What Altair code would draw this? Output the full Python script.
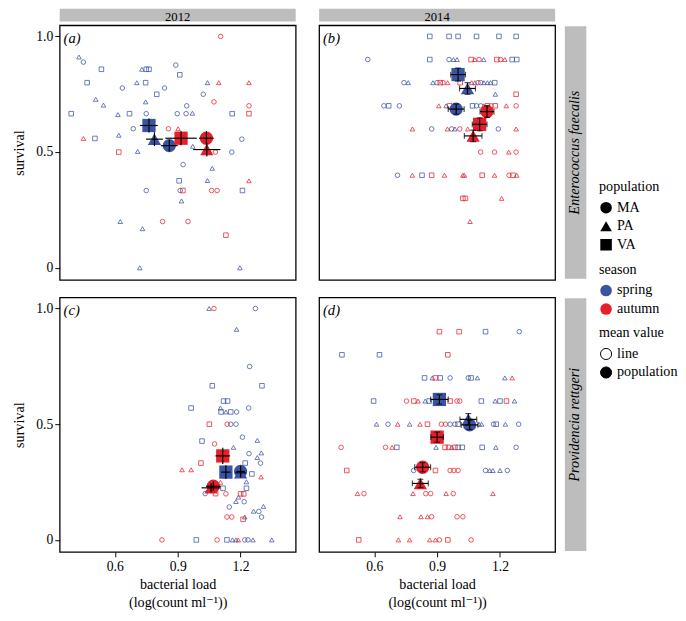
import altair as alt
import pandas as pd

SERIF = "'Liberation Serif', 'Times New Roman', Times, 'DejaVu Serif', serif"
BLUE = "#3a53a2"
RED = "#e5202b"
GREY = "#bdbdbd"
W, H = 242, 261
XDOM = [0.337, 1.463]
YDOM = [-0.052, 1.048]

POP_ORDER = ["MA", "PA", "VA"]
POP_SHAPES = ["circle", "triangle-up", "square"]
SEASON_ORDER = ["spring", "autumn"]
SEASON_COLORS = [BLUE, RED]
MEAN_ORDER = ["line", "population"]
COL_LABELS = ["2012", "2014"]
ROW_LABELS = ["Enterococcus faecalis", "Providencia rettgeri"]
PANEL_LABELS = ["(a)", "(b)", "(c)", "(d)"]
X_TICKS = [0.6, 0.9, 1.2]
Y_TICKS = [0, 0.5, 1.0]
X_TITLE = ["bacterial load", "(log(count ml\u207b\u00b9))"]
Y_TITLE = "survival"

# line means: (bacterial load, survival, population, season S=spring A=autumn)
A_LINES = [
    (0.429, 0.911, "PA", "S"), (0.45, 0.889, "MA", "S"), (0.536, 0.858, "VA", "S"),
    (0.729, 0.858, "PA", "S"), (0.75, 0.858, "VA", "S"), (0.763, 0.858, "VA", "S"),
    (0.891, 0.876, "MA", "S"), (0.91, 0.834, "VA", "S"), (0.468, 0.8, "VA", "S"),
    (0.705, 0.8, "PA", "S"), (0.747, 0.8, "VA", "S"), (1.042, 0.8, "PA", "S"),
    (1.096, 0.8, "PA", "A"), (1.24, 0.8, "PA", "A"), (0.636, 0.777, "MA", "S"),
    (0.837, 0.777, "MA", "S"), (0.8, 0.75, "VA", "S"), (1.022, 0.75, "MA", "S"),
    (0.509, 0.728, "PA", "S"), (0.546, 0.703, "PA", "S"), (0.747, 0.717, "PA", "S"),
    (1.073, 0.717, "MA", "A"), (0.943, 0.7, "MA", "S"), (1.24, 0.7, "MA", "A"),
    (0.392, 0.666, "VA", "S"), (0.615, 0.662, "PA", "S"), (0.67, 0.666, "VA", "S"),
    (0.75, 0.666, "MA", "S"), (0.898, 0.666, "MA", "S"), (0.94, 0.666, "MA", "S"),
    (0.97, 0.668, "PA", "S"), (1.16, 0.666, "VA", "S"), (1.24, 0.666, "VA", "A"),
    (0.688, 0.601, "MA", "S"), (0.856, 0.601, "MA", "A"), (0.902, 0.601, "PA", "A"),
    (0.45, 0.559, "PA", "A"), (0.505, 0.559, "VA", "S"), (0.619, 0.573, "PA", "S"),
    (1.206, 0.556, "MA", "S"), (0.619, 0.5, "VA", "A"), (0.709, 0.503, "PA", "S"),
    (0.972, 0.525, "PA", "S"), (1.08, 0.5, "MA", "A"), (1.158, 0.5, "MA", "S"),
    (0.926, 0.446, "MA", "S"), (1.065, 0.43, "PA", "S"), (0.907, 0.376, "VA", "S"),
    (1.042, 0.377, "PA", "S"), (1.24, 0.376, "PA", "A"), (0.75, 0.334, "MA", "S"),
    (0.912, 0.334, "MA", "S"), (0.925, 0.334, "VA", "A"), (1.062, 0.334, "MA", "A"),
    (1.088, 0.334, "MA", "A"), (1.209, 0.334, "VA", "S"), (0.918, 0.289, "PA", "S"),
    (0.626, 0.2, "PA", "S"), (0.828, 0.2, "MA", "A"), (0.949, 0.2, "MA", "A"),
    (0.732, 0.169, "PA", "S"), (1.13, 0.141, "VA", "A"), (0.719, 0.0, "PA", "S"),
    (1.197, 0.0, "PA", "S"), (1.105, 1.0, "MA", "A"),
]
B_LINES = [
    (0.865, 1.0, "VA", "S"), (0.957, 1.0, "VA", "S"), (1.0, 1.0, "VA", "S"),
    (1.088, 1.0, "VA", "S"), (1.195, 1.0, "VA", "S"), (1.277, 1.0, "VA", "S"),
    (0.569, 0.9, "MA", "S"), (0.865, 0.9, "VA", "S"), (0.957, 0.9, "MA", "S"),
    (0.978, 0.9, "PA", "S"), (0.995, 0.9, "PA", "S"), (1.062, 0.9, "VA", "A"),
    (1.08, 0.9, "PA", "A"), (1.1, 0.9, "MA", "A"), (1.122, 0.9, "PA", "S"),
    (1.185, 0.9, "VA", "A"), (1.203, 0.9, "MA", "A"), (1.223, 0.9, "PA", "A"),
    (1.258, 0.9, "VA", "S"), (1.28, 0.9, "VA", "S"),
    (0.742, 0.8, "MA", "S"), (0.762, 0.8, "PA", "S"), (0.88, 0.8, "PA", "S"),
    (0.9, 0.8, "MA", "S"), (0.915, 0.8, "VA", "A"), (0.928, 0.8, "MA", "A"),
    (0.95, 0.8, "PA", "A"), (1.01, 0.8, "VA", "A"), (1.065, 0.8, "PA", "A"),
    (1.08, 0.8, "PA", "S"), (1.095, 0.8, "MA", "A"), (1.108, 0.8, "MA", "S"),
    (1.123, 0.8, "PA", "S"), (1.14, 0.8, "PA", "S"), (1.155, 0.8, "PA", "S"),
    (1.175, 0.8, "VA", "S"),
    (1.178, 0.75, "PA", "S"), (1.277, 0.75, "VA", "A"),
    (0.646, 0.7, "MA", "S"), (0.669, 0.7, "VA", "S"), (0.72, 0.7, "MA", "S"),
    (0.908, 0.7, "PA", "A"), (0.943, 0.7, "PA", "S"), (0.96, 0.7, "VA", "A"),
    (1.069, 0.7, "VA", "S"), (1.088, 0.7, "MA", "S"), (1.108, 0.7, "MA", "S"),
    (1.123, 0.7, "PA", "A"), (1.14, 0.7, "VA", "A"), (1.158, 0.7, "MA", "A"),
    (1.177, 0.7, "VA", "A"), (1.23, 0.7, "PA", "A"), (1.277, 0.7, "MA", "A"),
    (0.782, 0.6, "PA", "A"), (0.874, 0.6, "MA", "S"), (0.949, 0.6, "PA", "A"),
    (0.969, 0.6, "MA", "S"), (0.985, 0.6, "PA", "S"), (1.008, 0.6, "MA", "A"),
    (1.046, 0.6, "PA", "A"), (1.192, 0.6, "MA", "S"), (1.277, 0.6, "PA", "A"),
    (1.108, 0.5, "MA", "A"), (1.174, 0.5, "MA", "A"), (1.242, 0.5, "PA", "A"),
    (1.277, 0.5, "MA", "A"),
    (0.711, 0.4, "MA", "S"), (0.782, 0.4, "PA", "A"), (0.828, 0.4, "VA", "S"),
    (0.874, 0.4, "VA", "A"), (0.935, 0.4, "PA", "A"), (1.023, 0.4, "PA", "A"),
    (1.03, 0.4, "PA", "A"), (1.115, 0.4, "VA", "A"), (1.174, 0.4, "PA", "A"),
    (1.243, 0.4, "MA", "A"), (1.262, 0.4, "VA", "A"), (1.28, 0.4, "PA", "A"),
    (1.023, 0.3, "VA", "A"), (1.035, 0.3, "VA", "A"), (1.208, 0.3, "PA", "A"),
    (1.057, 0.2, "PA", "A"),
]
C_LINES = [
    (1.05, 1.0, "PA", "S"), (1.073, 1.0, "MA", "A"), (1.271, 1.0, "MA", "S"),
    (1.181, 0.91, "PA", "S"), (1.243, 0.749, "MA", "S"), (1.065, 0.666, "VA", "S"),
    (1.302, 0.666, "VA", "S"), (1.119, 0.6, "VA", "S"), (1.138, 0.6, "VA", "S"),
    (0.964, 0.57, "VA", "S"), (1.104, 0.57, "PA", "S"), (1.107, 0.553, "VA", "S"),
    (1.13, 0.553, "PA", "S"), (1.153, 0.553, "VA", "S"), (1.181, 0.553, "MA", "S"),
    (1.239, 0.57, "MA", "S"), (1.051, 0.5, "VA", "A"), (1.136, 0.5, "MA", "A"),
    (1.153, 0.5, "MA", "S"), (1.178, 0.5, "MA", "S"), (1.016, 0.427, "VA", "S"),
    (1.076, 0.415, "MA", "A"), (1.209, 0.444, "MA", "S"), (1.28, 0.43, "PA", "S"),
    (1.166, 0.4, "PA", "S"), (1.24, 0.373, "MA", "S"), (1.299, 0.376, "PA", "S"),
    (1.28, 0.356, "PA", "S"), (1.011, 0.332, "VA", "A"), (1.222, 0.332, "VA", "S"),
    (1.295, 0.332, "MA", "S"), (0.921, 0.303, "PA", "A"), (0.964, 0.303, "PA", "A"),
    (1.254, 0.285, "VA", "S"), (1.228, 0.251, "PA", "S"), (1.298, 0.272, "PA", "A"),
    (1.104, 0.249, "PA", "A"), (1.228, 0.223, "VA", "S"), (1.116, 0.223, "VA", "S"),
    (1.031, 0.2, "MA", "S"), (1.081, 0.2, "VA", "A"), (1.13, 0.199, "MA", "A"),
    (1.2, 0.199, "VA", "A"), (1.215, 0.199, "VA", "A"), (1.19, 0.185, "PA", "S"),
    (1.178, 0.166, "PA", "S"), (1.217, 0.165, "MA", "S"), (1.146, 0.142, "MA", "S"),
    (1.309, 0.145, "PA", "S"), (1.262, 0.124, "PA", "S"), (1.287, 0.123, "MA", "S"),
    (1.135, 0.099, "MA", "A"), (1.158, 0.099, "MA", "A"), (1.22, 0.099, "PA", "S"),
    (1.212, 0.089, "VA", "A"), (1.3, 0.099, "MA", "S"),
    (0.825, 0.0, "MA", "A"), (0.989, 0.0, "VA", "S"), (1.088, 0.0, "MA", "A"),
    (1.135, 0.0, "VA", "S"), (1.161, 0.0, "PA", "S"), (1.178, 0.0, "PA", "S"),
    (1.189, 0.0, "PA", "A"), (1.22, 0.0, "MA", "S"), (1.235, 0.0, "MA", "S"),
    (1.259, 0.0, "PA", "S"), (1.349, 0.0, "PA", "S"),
]
D_LINES = [
    (0.911, 0.9, "VA", "A"), (1.005, 0.9, "VA", "A"), (1.131, 0.9, "VA", "S"),
    (1.292, 0.9, "MA", "S"),
    (0.446, 0.8, "VA", "S"), (0.625, 0.8, "VA", "S"), (0.951, 0.8, "VA", "A"),
    (0.84, 0.7, "VA", "S"), (0.877, 0.7, "PA", "S"), (0.892, 0.7, "VA", "A"),
    (0.915, 0.7, "VA", "S"), (0.962, 0.7, "MA", "S"), (1.049, 0.7, "MA", "S"),
    (1.062, 0.7, "VA", "S"), (1.092, 0.7, "PA", "S"), (1.223, 0.7, "PA", "S"),
    (1.258, 0.7, "PA", "A"),
    (0.597, 0.6, "VA", "S"), (0.754, 0.6, "MA", "A"), (0.789, 0.6, "VA", "A"),
    (0.809, 0.6, "PA", "A"), (0.843, 0.6, "PA", "S"), (0.862, 0.6, "VA", "S"),
    (0.962, 0.6, "VA", "A"), (0.995, 0.6, "MA", "A"), (1.008, 0.6, "MA", "A"),
    (1.111, 0.6, "VA", "S"), (1.177, 0.6, "PA", "S"), (1.2, 0.6, "VA", "S"),
    (1.231, 0.6, "VA", "A"), (1.269, 0.6, "PA", "S"),
    (0.611, 0.5, "PA", "S"), (0.666, 0.5, "MA", "S"), (0.712, 0.5, "PA", "A"),
    (0.769, 0.5, "PA", "S"), (0.818, 0.5, "PA", "A"), (0.854, 0.5, "VA", "A"),
    (0.92, 0.5, "MA", "A"), (0.94, 0.5, "MA", "A"), (0.962, 0.5, "MA", "S"),
    (0.985, 0.5, "MA", "S"), (1.0, 0.5, "VA", "S"), (1.1, 0.5, "PA", "S"),
    (1.112, 0.5, "PA", "S"), (1.169, 0.5, "MA", "S"), (1.182, 0.5, "VA", "S"),
    (1.226, 0.5, "PA", "S"), (1.289, 0.5, "MA", "S"),
    (0.442, 0.4, "MA", "A"), (0.654, 0.4, "MA", "A"), (0.685, 0.4, "PA", "A"),
    (0.708, 0.4, "VA", "S"), (0.895, 0.4, "PA", "S"), (0.938, 0.4, "VA", "A"),
    (0.955, 0.4, "VA", "A"), (0.97, 0.4, "PA", "A"), (0.985, 0.4, "VA", "A"),
    (1.0, 0.4, "VA", "S"), (1.02, 0.4, "VA", "S"), (1.115, 0.4, "VA", "S"),
    (1.18, 0.4, "PA", "S"), (1.277, 0.4, "MA", "S"),
    (0.469, 0.3, "VA", "A"), (0.788, 0.3, "MA", "S"), (0.892, 0.3, "VA", "A"),
    (0.962, 0.3, "MA", "A"), (0.98, 0.3, "MA", "A"), (1.0, 0.3, "MA", "A"),
    (1.131, 0.3, "MA", "S"), (1.151, 0.3, "PA", "S"), (1.166, 0.3, "PA", "S"),
    (1.2, 0.3, "PA", "S"), (1.235, 0.3, "MA", "S"),
    (0.52, 0.2, "PA", "A"), (0.551, 0.2, "MA", "A"), (0.785, 0.2, "PA", "A"),
    (0.846, 0.2, "MA", "A"), (0.869, 0.2, "MA", "A"), (0.943, 0.2, "PA", "A"),
    (0.977, 0.2, "MA", "A"), (1.166, 0.2, "PA", "A"),
    (0.723, 0.1, "PA", "A"), (0.823, 0.1, "PA", "A"), (0.854, 0.1, "PA", "A"),
    (0.874, 0.1, "MA", "A"), (0.995, 0.1, "MA", "A"), (1.023, 0.1, "MA", "A"),
    (0.526, 0.0, "VA", "A"), (0.715, 0.0, "PA", "A"), (0.769, 0.0, "PA", "A"),
    (0.865, 0.0, "PA", "A"), (0.892, 0.0, "PA", "A"), (0.911, 0.0, "MA", "A"),
    (0.951, 0.0, "VA", "A"), (1.062, 0.0, "MA", "A"),
]

# population means: (x, y, population, season, x s.e., y s.e.)
A_MEANS = [
    (0.763, 0.615, "VA", "S", 0.042, 0.03), (0.789, 0.556, "PA", "S", 0.04, 0.03),
    (0.86, 0.528, "MA", "S", 0.04, 0.025), (0.916, 0.56, "VA", "A", 0.075, 0.03),
    (1.039, 0.511, "PA", "A", 0.065, 0.03), (1.037, 0.56, "MA", "A", 0.035, 0.03),
]
B_MEANS = [
    (1.0, 0.835, "VA", "S", 0.035, 0.028), (1.045, 0.775, "PA", "S", 0.038, 0.025),
    (0.991, 0.686, "MA", "S", 0.038, 0.022), (1.138, 0.675, "MA", "A", 0.033, 0.025),
    (1.103, 0.62, "VA", "A", 0.035, 0.028), (1.072, 0.57, "PA", "A", 0.042, 0.025),
]
C_MEANS = [
    (1.115, 0.363, "VA", "A", 0.035, 0.035), (1.13, 0.293, "VA", "S", 0.022, 0.03),
    (1.2, 0.296, "MA", "S", 0.02, 0.025), (1.2, 0.29, "PA", "S", 0.025, 0.02),
    (1.059, 0.225, "PA", "A", 0.045, 0.02), (1.07, 0.232, "MA", "A", 0.035, 0.02),
]
D_MEANS = [
    (0.911, 0.607, "VA", "S", 0.042, 0.02), (1.049, 0.521, "PA", "S", 0.04, 0.025),
    (1.055, 0.497, "MA", "S", 0.04, 0.02), (0.9, 0.444, "VA", "A", 0.03, 0.022),
    (0.82, 0.244, "PA", "A", 0.038, 0.018), (0.831, 0.314, "MA", "A", 0.038, 0.02),
]

SEASON_MAP = {"S": "spring", "A": "autumn"}


def lines_df(rows):
    df = pd.DataFrame(rows, columns=["x", "y", "population", "s"])
    df["season"] = df["s"].map(SEASON_MAP)
    return df


def means_df(rows):
    df = pd.DataFrame(rows, columns=["x", "y", "population", "s", "xe", "ye"])
    df["season"] = df["s"].map(SEASON_MAP)
    df["x_lo"] = df["x"] - df["xe"]
    df["x_hi"] = df["x"] + df["xe"]
    df["y_lo"] = df["y"] - df["ye"]
    df["y_hi"] = df["y"] + df["ye"]
    df["mean"] = "population"
    return df


LEG_X = 553
POP_LEGEND = alt.Legend(title="population", orient="none", legendX=LEG_X, legendY=159,
                        symbolFillColor="black", symbolStrokeWidth=0, symbolSize=140)
SEASON_LEGEND = alt.Legend(title="season", orient="none", legendX=LEG_X, legendY=244,
                           symbolType="circle", symbolStrokeWidth=0, symbolSize=140)
MEAN_LEGEND = alt.Legend(title="mean value", orient="none", legendX=LEG_X, legendY=309,
                         symbolType="circle", symbolStrokeColor="black",
                         symbolStrokeWidth=1, symbolOpacity=1, symbolSize=130)


def panel(lines, means, label, col_label=None, row_label=None,
          show_x=False, show_y=False, caps=False):
    xs = alt.Scale(domain=XDOM, nice=False, zero=False)
    ys = alt.Scale(domain=YDOM, nice=False, zero=False)
    xax = (alt.Axis(values=X_TICKS, format=".1f", title=X_TITLE, labelPadding=3,
                    titlePadding=5, titleLineHeight=18) if show_x else None)
    yax = (alt.Axis(values=Y_TICKS, title=Y_TITLE, titlePadding=10,
                    labelExpr="datum.value == 0 ? '0' : format(datum.value, '.1f')")
           if show_y else None)

    def X(f):
        return alt.X(f"{f}:Q", scale=xs, axis=xax)

    def Y(f):
        return alt.Y(f"{f}:Q", scale=ys, axis=yax)

    shape_sc = alt.Scale(domain=POP_ORDER, range=POP_SHAPES)
    color_sc = alt.Scale(domain=SEASON_ORDER, range=SEASON_COLORS)

    layers = []
    # open symbols for line means: one layer per population x season
    for pop, shp in zip(POP_ORDER, POP_SHAPES):
        for sea, col in zip(SEASON_ORDER, SEASON_COLORS):
            layers.append(
                alt.Chart(lines)
                .transform_filter((alt.datum.population == pop) & (alt.datum.season == sea))
                .mark_point(shape=shp, filled=False, size=22, strokeWidth=0.8,
                            color=col, opacity=0.95)
                .encode(x=X("x"), y=Y("y"))
            )
    big = alt.Chart(means).mark_point(filled=True, size=185, opacity=1).encode(
        x=X("x"), y=Y("y"),
        shape=alt.Shape("population:N", scale=shape_sc, legend=POP_LEGEND),
        color=alt.Color("season:N", scale=color_sc, legend=SEASON_LEGEND),
    )
    key = alt.Chart(means).mark_point(filled=True, opacity=0, size=1).encode(
        x=X("x"), y=Y("y"),
        fill=alt.Fill("mean:N", scale=alt.Scale(domain=MEAN_ORDER, range=["white", "black"]),
                      legend=MEAN_LEGEND),
    )
    hbar = alt.Chart(means).mark_rule(color="black", strokeWidth=1.2).encode(
        x=X("x_lo"), x2="x_hi", y=Y("y"))
    vbar = alt.Chart(means).mark_rule(color="black", strokeWidth=1.2).encode(
        x=X("x"), y=Y("y_lo"), y2="y_hi")
    layers += [big, key, hbar, vbar]
    if caps:
        hcap = alt.Chart(means).transform_fold(["x_lo", "x_hi"], as_=["end", "xc"]).mark_tick(
            color="black", orient="vertical", size=6, thickness=1.2).encode(x=X("xc"), y=Y("y"))
        vcap = alt.Chart(means).transform_fold(["y_lo", "y_hi"], as_=["end", "yc"]).mark_tick(
            color="black", orient="horizontal", size=6, thickness=1.2).encode(x=X("x"), y=Y("yc"))
        layers += [hcap, vcap]
    lab = alt.Chart(pd.DataFrame({"t": [label]})).mark_text(
        font=SERIF, fontSize=15, fontStyle="italic", align="left", baseline="middle",
        color="black").encode(x=alt.value(4), y=alt.value(13), text="t:N")
    layers.append(lab)
    if col_label:
        d = pd.DataFrame({"t": [col_label]})
        layers.append(alt.Chart(d).mark_rect(color=GREY).encode(
            x=alt.value(0), x2=alt.value(W), y=alt.value(-17), y2=alt.value(-4)))
        layers.append(alt.Chart(d).mark_text(font=SERIF, fontSize=13, baseline="middle",
                                             color="black").encode(
            x=alt.value(W / 2), y=alt.value(-8), text="t:N"))
    if row_label:
        d = pd.DataFrame({"t": [row_label]})
        layers.append(alt.Chart(d).mark_rect(color=GREY).encode(
            x=alt.value(W + 10), x2=alt.value(W + 32), y=alt.value(1), y2=alt.value(H - 1)))
        layers.append(alt.Chart(d).mark_text(font=SERIF, fontSize=14.5, fontStyle="italic",
                                             baseline="middle", angle=270,
                                             color="black").encode(
            x=alt.value(W + 21), y=alt.value(H / 2), text="t:N"))
    return alt.layer(*layers).properties(width=W, height=H)


pa = panel(lines_df(A_LINES), means_df(A_MEANS), PANEL_LABELS[0], col_label=COL_LABELS[0],
           show_y=True)
pb = panel(lines_df(B_LINES), means_df(B_MEANS), PANEL_LABELS[1], col_label=COL_LABELS[1],
           row_label=ROW_LABELS[0], caps=True)
pc = panel(lines_df(C_LINES), means_df(C_MEANS), PANEL_LABELS[2], show_x=True, show_y=True)
pd_ = panel(lines_df(D_LINES), means_df(D_MEANS), PANEL_LABELS[3], row_label=ROW_LABELS[1],
            show_x=True, caps=True)

chart = alt.vconcat(
    alt.hconcat(pa, pb, spacing=22),
    alt.hconcat(pc, pd_, spacing=22),
    spacing=16,
).properties(
    padding={"left": 2, "top": -8, "right": 0, "bottom": 0}
).configure_view(
    stroke="black", strokeWidth=1.3
).configure_axis(
    labelFont=SERIF, labelFontSize=14, labelColor="black",
    titleFont=SERIF, titleFontSize=14.5, titleFontWeight="normal", titleColor="black",
    tickColor="black", tickSize=5, tickWidth=1, domain=False, grid=False, labelPadding=2,
).configure_legend(
    titleFont=SERIF, titleFontSize=14.5, titleFontWeight="normal", titleColor="black",
    labelFont=SERIF, labelFontSize=14.5, labelColor="black", clipHeight=19,
    titlePadding=4, labelOffset=4, padding=0, rowPadding=0,
)

chart.save("out.html", embed_options={"renderer": "svg", "actions": False})
